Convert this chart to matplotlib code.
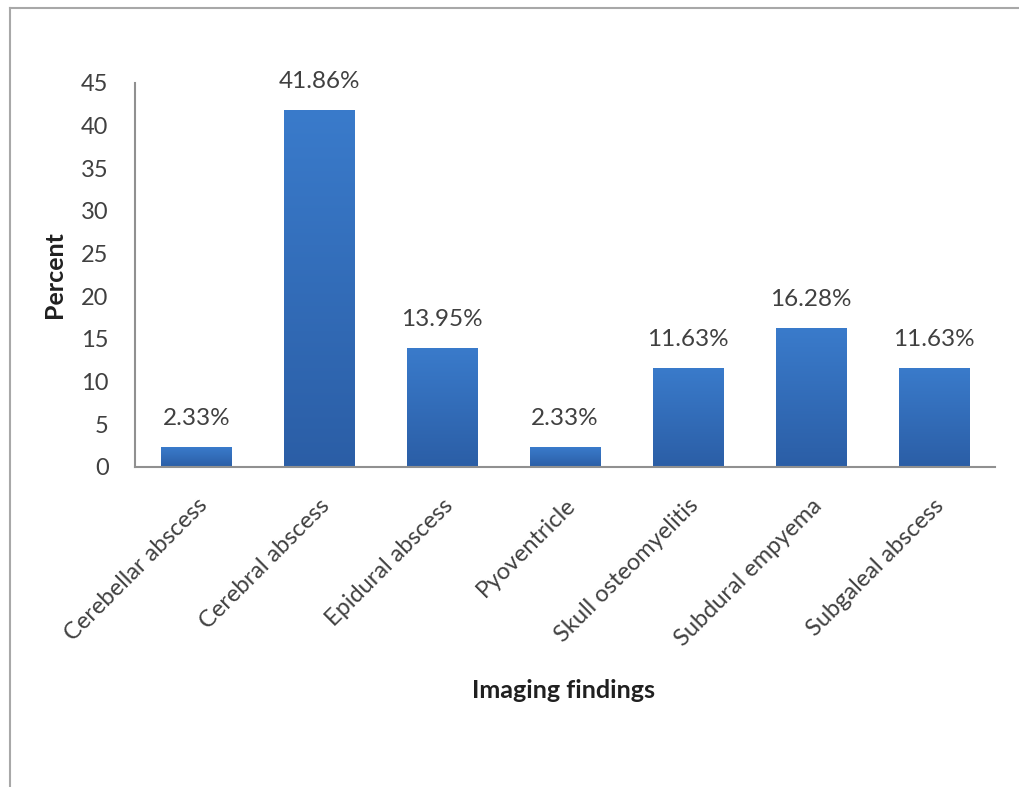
import numpy as np
import matplotlib
matplotlib.use("Agg")
import matplotlib.pyplot as plt
from matplotlib.colors import LinearSegmentedColormap
from matplotlib.patches import Rectangle

categories = ["Cerebellar abscess", "Cerebral abscess", "Epidural abscess",
              "Pyoventricle", "Skull osteomyelitis", "Subdural empyema",
              "Subgaleal abscess"]
percent = [2.33, 41.86, 13.95, 2.33, 11.63, 16.28, 11.63]
y_ticks = [0, 5, 10, 15, 20, 25, 30, 35, 40, 45]

plt.rcParams["font.family"] = ["Lato", "DejaVu Sans"]

W, H = 1019, 787
fig = plt.figure(figsize=(W / 100, H / 100), dpi=100)
fig.patch.set_facecolor("white")

# outer frame (left and top edges)
fig.add_artist(plt.Line2D([10 / W, 10 / W], [1 - 8 / H, 0.0],
                          color="#a8a8a8", lw=1.5, transform=fig.transFigure))
fig.add_artist(plt.Line2D([10 / W, 1.0], [1 - 8 / H, 1 - 8 / H],
                          color="#a8a8a8", lw=1.5, transform=fig.transFigure))

x0, x1 = 135, 995
y_top, y_bot = 83, 467
ax = fig.add_axes([x0 / W, 1 - y_bot / H, (x1 - x0) / W, (y_bot - y_top) / H])

xs = np.arange(len(categories))
bw = 0.57
bars = ax.bar(xs, percent, width=bw, color="none", edgecolor="none")

cmap = LinearSegmentedColormap.from_list("bar", ["#2b5ea6", "#3a7bcb"])
grad = np.linspace(0, 1, 256).reshape(-1, 1)
for b in bars:
    bx, by = b.get_x(), b.get_y()
    bwid, bh = b.get_width(), b.get_height()
    im = ax.imshow(grad, extent=[bx, bx + bwid, by, by + bh], origin="lower",
                   cmap=cmap, aspect="auto", zorder=2)
    clip = Rectangle((bx, by), bwid, bh, transform=ax.transData)
    im.set_clip_path(clip)

for xi, v in zip(xs, percent):
    ax.text(xi, v + 2.1, f"{v:.2f}%", ha="center", va="bottom",
            fontsize=17.5, color="#404040")

ax.set_xlim(-0.5, len(categories) - 0.5)
ax.set_ylim(0, 45)
ax.set_yticks(y_ticks)
ax.set_xticks(xs)
ax.set_xticklabels(categories, rotation=45, ha="right", rotation_mode="anchor",
                   fontsize=17, color="#404040")
ax.tick_params(axis="y", labelsize=17, labelcolor="#404040", length=0, pad=19)
ax.tick_params(axis="x", length=0, pad=20)

for s in ["top", "right"]:
    ax.spines[s].set_visible(False)
for s in ["left", "bottom"]:
    ax.spines[s].set_color("#909090")
    ax.spines[s].set_linewidth(1.5)

fig.text(55 / W, 1 - 275 / H, "Percent", ha="center", va="center",
         rotation=90, fontsize=18, fontweight="bold", color="#202020")
fig.text(563 / W, 1 - 691 / H, "Imaging findings", ha="center", va="center",
         fontsize=18, fontweight="bold", color="#202020")

fig.savefig("out.png", dpi=100, facecolor="white")
